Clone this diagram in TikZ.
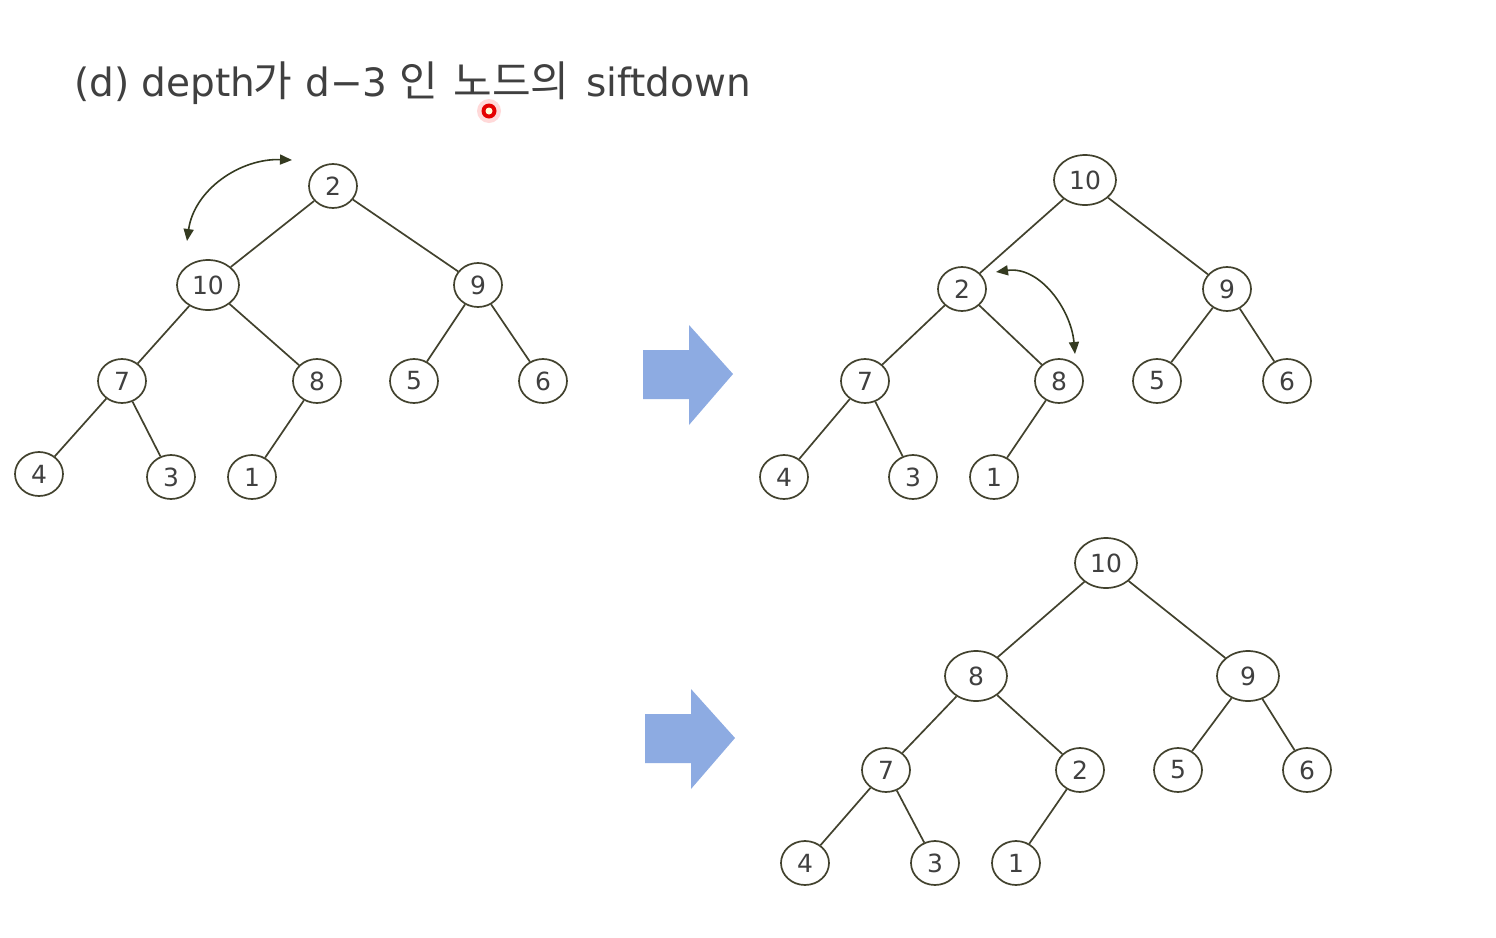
\documentclass[tikz,border=0pt]{standalone}
\usepackage{fontspec}
\setmainfont{Noto Sans CJK KR}
\newfontfamily\latf{DejaVu Sans}
\newfontfamily\krf{Noto Sans CJK KR}
\usetikzlibrary{arrows.meta,shapes.geometric}
\definecolor{edgec}{RGB}{66,66,46}
\definecolor{txtc}{RGB}{64,64,64}
\definecolor{blockc}{RGB}{141,171,226}
\definecolor{swapc}{RGB}{52,58,32}
\tikzset{
  tn/.style={ellipse, draw=edgec, line width=0.85pt, minimum width=24pt, minimum height=22pt, inner sep=0pt, font=\latf\fontsize{12.5}{12.5}\selectfont, text=txtc},
  tnw/.style={tn, minimum width=31pt, minimum height=25pt},
  tedge/.style={draw=edgec, line width=0.85pt},
  swap/.style={draw=swapc, line width=0.8pt, {Triangle[length=6pt,width=5pt]}-{Triangle[length=6pt,width=5pt]}},
  blockarrow/.style={fill=blockc, draw=none},
  tlat/.style={anchor=base west, inner sep=0pt, text=txtc, font=\latf\fontsize{19.5}{19.5}\selectfont},
  tkr/.style={anchor=base west, inner sep=0pt, text=txtc, font=\krf\fontsize{21}{21}\selectfont}
}
\begin{document}
\begin{tikzpicture}[x=0.5pt,y=-0.5pt]
\useasboundingbox[fill=white] (0,0) rectangle (1496,938);
\node[tlat] (t1) at (74,96) {(d) depth};
\node[tkr] (t2) at (253,96) {가};
\node[tlat] (t3) at (305,96) {d−3};
\node[tkr] (t4) at (399,96) {인};
\node[tkr] (t5) at (453,96) {노드의};
\node[tlat] (t6) at (586,96) {siftdown};
% cursor highlight
\fill[red, opacity=0.15] (489,111) circle (12);
\fill[red!90!black] (489,111) circle (7.5);
\fill[white!85!yellow] (489,111) circle (3.5);

% Tree 1
\node[tn] (a2) at (333,186) {2};
\node[tnw] (a10) at (208,285) {10};
\node[tn] (a9) at (478,285) {9};
\node[tn] (a7) at (122,381) {7};
\node[tn] (a8) at (317,381) {8};
\node[tn] (a5) at (414,381) {5};
\node[tn] (a6) at (543,381) {6};
\node[tn] (a4) at (39,474) {4};
\node[tn] (a3) at (171,477) {3};
\node[tn] (a1) at (252,477) {1};
\draw[tedge] (a2)--(a10); \draw[tedge] (a2)--(a9);
\draw[tedge] (a10)--(a7); \draw[tedge] (a10)--(a8);
\draw[tedge] (a9)--(a5); \draw[tedge] (a9)--(a6);
\draw[tedge] (a7)--(a4); \draw[tedge] (a7)--(a3);
\draw[tedge] (a8)--(a1);
\coordinate (s1a) at (292,160);
\coordinate (s1b) at (187,241);
\draw[swap] (s1a) to[out=178,in=82] (s1b);

% Tree 2
\node[tnw] (b10) at (1085,180) {10};
\node[tn] (b2) at (962,289) {2};
\node[tn] (b9) at (1227,289) {9};
\node[tn] (b7) at (865,381) {7};
\node[tn] (b8) at (1059,381) {8};
\node[tn] (b5) at (1157,381) {5};
\node[tn] (b6) at (1287,381) {6};
\node[tn] (b4) at (784,477) {4};
\node[tn] (b3) at (913,477) {3};
\node[tn] (b1) at (994,477) {1};
\draw[tedge] (b10)--(b2); \draw[tedge] (b10)--(b9);
\draw[tedge] (b2)--(b7); \draw[tedge] (b2)--(b8);
\draw[tedge] (b9)--(b5); \draw[tedge] (b9)--(b6);
\draw[tedge] (b7)--(b4); \draw[tedge] (b7)--(b3);
\draw[tedge] (b8)--(b1);
\coordinate (s2a) at (996,272);
\coordinate (s2b) at (1075,354);
\draw[swap] (s2a) to[out=8,in=95] (s2b);

% Tree 3
\node[tnw] (c10) at (1106,563) {10};
\node[tnw] (c8) at (976,676) {8};
\node[tnw] (c9) at (1248,676) {9};
\node[tn] (c7) at (886,770) {7};
\node[tn] (c2) at (1080,770) {2};
\node[tn] (c5) at (1178,770) {5};
\node[tn] (c6) at (1307,770) {6};
\node[tn] (c4) at (805,863) {4};
\node[tn] (c3) at (935,863) {3};
\node[tn] (c1) at (1016,863) {1};
\draw[tedge] (c10)--(c8); \draw[tedge] (c10)--(c9);
\draw[tedge] (c8)--(c7); \draw[tedge] (c8)--(c2);
\draw[tedge] (c9)--(c5); \draw[tedge] (c9)--(c6);
\draw[tedge] (c7)--(c4); \draw[tedge] (c7)--(c3);
\draw[tedge] (c2)--(c1);

% block arrows
\fill[blockarrow] (643,350)--(689,350)--(689,325)--(733,374)--(689,425)--(689,399)--(643,399)--cycle;
\fill[blockarrow] (645,714)--(691,714)--(691,689)--(735,738)--(691,789)--(691,763)--(645,763)--cycle;
\end{tikzpicture}
\end{document}
